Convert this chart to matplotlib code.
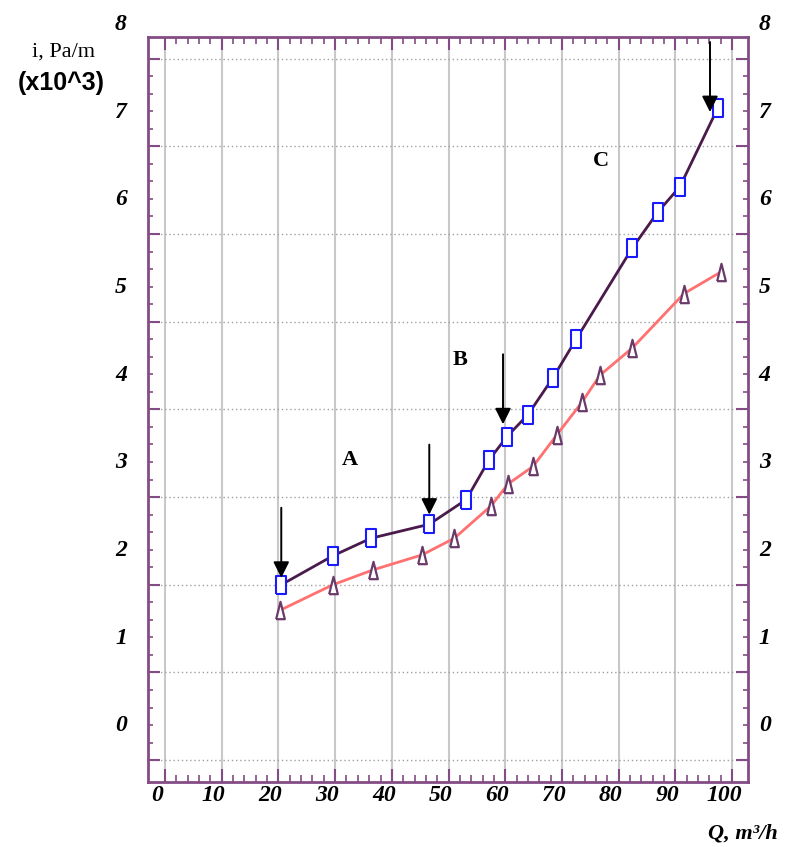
import numpy as np
import matplotlib
matplotlib.use("Agg")
import matplotlib.pyplot as plt
from matplotlib.transforms import ScaledTranslation, blended_transform_factory

# upper curve (squares)
q_sq = [20.5, 29.6, 36.3, 46.6, 53.1, 57.1, 60.3, 64.0, 68.4, 72.5, 82.4, 86.9, 90.8, 97.5]
i_sq = [1.61, 1.94, 2.14, 2.30, 2.58, 3.03, 3.30, 3.55, 3.97, 4.41, 5.45, 5.86, 6.15, 7.05]

# lower curve (triangles)
q_tr = [20.3, 29.6, 36.7, 45.3, 51.0, 57.5, 60.5, 64.9, 69.1, 73.5, 76.7, 82.4, 91.5, 98.1]
i_tr = [1.32, 1.61, 1.78, 1.95, 2.14, 2.51, 2.76, 2.96, 3.32, 3.69, 4.00, 4.31, 4.93, 5.18]

# arrow tips and region labels
arrow_tips = [(20.5, 1.69), (46.6, 2.41), (59.6, 3.44), (96.1, 7.00)]
regions = [("A", 32.6, 3.03), ("B", 52.0, 4.17), ("C", 76.9, 6.44)]

x_ticks = list(range(0, 101, 10))
y_labels = list(range(0, 9))

purple = "#844c84"
fig = plt.figure(figsize=(7.87, 8.47), dpi=100)
ax = fig.add_axes([148 / 787, 1 - 782 / 847, 600 / 787, 745 / 847])
ax.set_xlim(-3.0, 102.8)
ax.set_ylim(-0.639, 7.856)

for s in ax.spines.values():
    s.set_color(purple)
    s.set_linewidth(2)

# x ticks
ax.set_xticks(x_ticks)
ax.set_xticks(np.arange(2, 100, 2), minor=True)
ax.tick_params(axis="x", which="major", direction="in", length=9.5, width=1.5,
               color=purple, top=True, bottom=True, pad=2)
ax.tick_params(axis="x", which="minor", direction="in", length=5, width=1.2,
               color=purple, top=True, bottom=True)
ax.set_xticklabels([str(v) for v in x_ticks], fontfamily="Liberation Serif",
                   fontstyle="italic", fontweight="bold", fontsize=17)
shift = ScaledTranslation(-8 / 100, 0, fig.dpi_scale_trans)
for lbl in ax.get_xticklabels():
    lbl.set_transform(lbl.get_transform() + shift)

# y ticks: gridline ticks are offset from the labelled values
y_major = np.arange(-0.39, 7.7, 1.0)
y_minor = np.arange(-0.19, 7.5, 0.2)
ax.set_yticks(y_major)
ax.set_yticks(y_minor, minor=True)
ax.set_yticklabels([])
ax.tick_params(axis="y", which="major", direction="in", length=8.6, width=1.5,
               color=purple, left=True, right=True)
ax.tick_params(axis="y", which="minor", direction="in", length=3.6, width=1.2,
               color=purple, left=True, right=True)

trans = blended_transform_factory(ax.transAxes, ax.transData)
for v in y_labels:
    for xa in (-0.045, 1.028):
        ax.text(xa, v, str(v), transform=trans, ha="center", va="center",
                fontfamily="Liberation Serif", fontstyle="italic",
                fontweight="bold", fontsize=17)

ax.grid(axis="x", which="major", color="#c8c8c8", lw=1.5, ls="-", zorder=0)
ax.grid(axis="y", which="major", color="#a0a0a0", lw=1.0, ls=(0, (1, 2)), zorder=0)
ax.set_axisbelow(True)

sq_marker = [(-0.27, -0.5), (0.27, -0.5), (0.27, 0.5), (-0.27, 0.5), (-0.27, -0.5)]
tr_marker = [(-0.25, -0.5), (0.25, -0.5), (0.0, 0.5), (-0.25, -0.5)]

ax.plot(q_tr, i_tr, color="#ff7070", lw=2, zorder=3)
ax.plot(q_tr, i_tr, ls="none", marker=tr_marker, ms=12.5, mfc="white",
        mec="#6a3a6a", mew=1.6, zorder=4)
ax.plot(q_sq, i_sq, color="#4a1a4a", lw=2, zorder=3)
ax.plot(q_sq, i_sq, ls="none", marker=sq_marker, ms=12.5, mfc="white",
        mec="#1a1aff", mew=1.5, zorder=4)

for x, y in arrow_tips:
    ax.annotate("", xy=(x, y), xytext=(0, 70), textcoords="offset pixels",
                arrowprops=dict(arrowstyle="-|>", color="black", lw=1.4,
                                mutation_scale=24, shrinkA=0, shrinkB=0),
                zorder=5)

for name, x, y in regions:
    ax.text(x, y, name, ha="center", va="center", fontfamily="Liberation Serif",
            fontsize=16, fontweight="bold", zorder=5)

fig.text(63 / 787, 1 - 52 / 847, "i, Pa/m", ha="center", va="center",
         fontfamily="Liberation Serif", fontsize=16)
fig.text(61 / 787, 1 - 83 / 847, "(x10^3)", ha="center", va="center",
         fontfamily="Liberation Sans", fontweight="bold", fontsize=18)
fig.text(743 / 787, 1 - 833 / 847, "Q, m\u00b3/h", ha="center", va="center",
         fontfamily="Liberation Serif", fontstyle="italic", fontweight="bold",
         fontsize=16)

fig.savefig("out.png", dpi=100)
